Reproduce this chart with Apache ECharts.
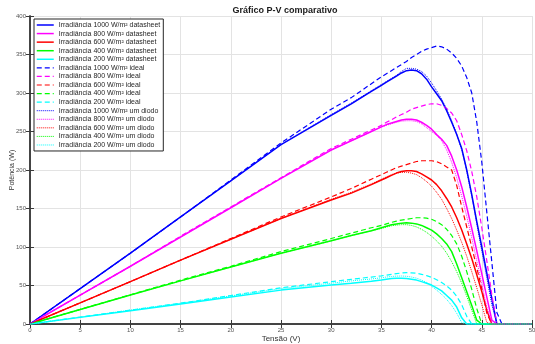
<!DOCTYPE html>
<html>
<head>
<meta charset="utf-8">
<script src="https://cdn.jsdelivr.net/npm/echarts@6/dist/echarts.min.js"></script>
<style>
  html, body { margin: 0; padding: 0; background: #fff; }
  #chart { width: 535px; height: 344px; }
</style>
</head>
<body>
<div id="chart"></div>
<script>
// tensão (V) shared by every curve
const voltage = [0, 5, 10, 15, 20, 25, 30, 32, 34, 35, 35.5, 36, 36.5, 37, 37.5, 38, 38.5, 39, 39.5,
  40, 40.5, 41, 41.5, 42, 42.5, 43, 43.5, 44, 44.5, 45, 45.5, 46, 46.5, 47, 50];

// potência (W)
const datasheet1000 = [0, 46, 92, 139, 186, 233, 271, 286, 302, 310, 314, 318, 322, 326, 329, 330, 329, 325, 318,
  308, 299, 290, 277, 262, 246, 228, 200, 168, 133, 100, 66, 33, 0, 0, 0];
const datasheet800 = [0, 37.5, 75, 113, 151, 189, 226, 238, 250, 256, 259, 261, 263, 265, 266, 266, 265, 262, 258,
  253, 246, 240, 232, 218, 200, 178, 152, 124, 95, 65, 35, 5, 0, 0, 0];
const datasheet600 = [0, 27.5, 55, 83, 110, 137, 161, 170, 181, 187, 190, 193, 196, 198, 199, 199, 198, 195, 191,
  187, 181, 173, 163, 152, 138, 122, 104, 85, 64, 42, 18, 0, 0, 0, 0];
const datasheet400 = [0, 18.8, 37.7, 56, 74, 92, 108, 115, 121, 125, 127, 129, 130, 131, 131.5, 131, 130, 128, 125,
  122, 117, 111, 104, 94, 78, 60, 42, 24, 5, 0, 0, 0, 0, 0, 0];
const datasheet200 = [0, 8.6, 17.3, 26, 35, 44, 50.6, 53, 55.5, 57, 58, 59, 59.3, 59.3, 59, 58, 57, 55, 53,
  50.6, 47, 43, 37, 31, 22, 8, 0, 0, 0, 0, 0, 0, 0, 0, 0];

const ideal1000 = [0, 46, 92, 139, 187, 235, 279, 294, 312, 321, 325, 329, 333, 337, 341, 346, 350, 354, 357,
  359, 361, 360, 357, 352, 345, 335, 320, 300, 262, 210, 145, 80, 15, 0, 0];
const ideal800 = [0, 37.5, 75, 114, 152, 190, 228, 240, 252, 258, 262, 265, 269, 272, 275, 279, 281, 283, 285,
  286, 286, 284, 280, 274, 264, 246, 225, 198, 165, 125, 82, 38, 0, 0, 0];
const ideal600 = [0, 27.5, 55, 83, 111, 139, 165, 176, 188, 194, 197, 200, 203, 205, 207, 209, 211, 212, 212,
  212, 211, 208, 204, 200, 180, 152, 126, 100, 73, 46, 14, 0, 0, 0, 0];
const ideal400 = [0, 19, 38, 57, 75, 94, 111, 118, 125, 128, 130, 132, 133.5, 135, 136, 137, 138, 138, 137.5,
  136, 133, 129, 123, 115, 104, 88, 68, 45, 20, 0, 0, 0, 0, 0, 0];
const ideal200 = [0, 9, 18, 27, 37, 47, 55, 58, 61, 62.5, 63.5, 64.5, 65.5, 66.2, 66.6, 66.5, 65.8, 64.5, 62.8,
  60.6, 57.5, 54, 49.5, 44, 36, 25, 10, 0, 0, 0, 0, 0, 0, 0, 0];

const diodo1000 = [0, 46, 92, 139, 186, 233, 272, 287, 303, 311, 315, 319, 323, 328, 332, 332, 331, 328, 322,
  313, 303, 292, 279, 264, 247, 226, 199, 166, 130, 95, 60, 25, 0, 0, 0];
const diodo800 = [0, 37.5, 75, 113, 151, 189, 226, 238, 250, 256, 258, 260, 262, 263.5, 264, 264, 263, 260, 255,
  250, 245, 238, 226, 210, 190, 166, 140, 112, 82, 52, 22, 0, 0, 0, 0];
const diodo600 = [0, 27.5, 55, 83, 110, 137, 162, 171, 182, 188, 191, 194, 196, 197, 197, 196, 194, 190, 185,
  179, 171, 162, 150, 137, 122, 106, 88, 68, 47, 25, 2, 0, 0, 0, 0];
const diodo400 = [0, 18.8, 37.7, 56, 74, 92, 108, 115, 121, 124, 126, 127.5, 128.5, 129, 129, 128, 126, 123, 119,
  114, 108, 101, 92, 81, 68, 53, 36, 18, 0, 0, 0, 0, 0, 0, 0];
const diodo200 = [0, 9, 18, 27, 36.5, 46, 53, 56, 58.5, 60, 61, 61.7, 62.2, 62.3, 62, 61, 59.5, 57, 54,
  49, 44, 38.5, 32, 24, 14, 2, 0, 0, 0, 0, 0, 0, 0, 0, 0];

const irradiances = ["1000", "800", "600", "400", "200"];
const colors = ["#0000ff", "#ff00ff", "#ff0000", "#00ff00", "#00ffff"];

const groups = [
  { suffix: "datasheet", curves: [datasheet1000, datasheet800, datasheet600, datasheet400, datasheet200], type: "solid", width: 1.5 },
  { suffix: "ideal", curves: [ideal1000, ideal800, ideal600, ideal400, ideal200], type: [5, 3], width: 1.2 },
  { suffix: "um diodo", curves: [diodo1000, diodo800, diodo600, diodo400, diodo200], type: [1, 1], width: 1 }
];

const series = [];
const legendItems = [];
groups.forEach((group) => {
  group.curves.forEach((values, i) => {
    const name = `Irradiância ${irradiances[i]} W/m² ${group.suffix}`;
    const lineStyle = { color: colors[i], width: group.width, type: group.type };
    series.push({
      name: name,
      type: "line",
      data: voltage.map((v, k) => [v, values[k]]),
      showSymbol: false,
      symbol: "none",
      color: colors[i],
      lineStyle: lineStyle,
      itemStyle: { color: colors[i] }
    });
    legendItems.push({ name: name, lineStyle: lineStyle, itemStyle: { color: colors[i], opacity: 0 } });
  });
});

const font = "Liberation Sans, Arial, Helvetica, sans-serif";
const frameColor = "#3a3a3a";

const chart = echarts.init(document.getElementById("chart"));
chart.setOption({
  animation: false,
  color: colors,
  textStyle: { fontFamily: font },
  title: {
    text: "Gráfico P-V comparativo",
    left: 280,
    textAlign: "center",
    top: 1,
    textStyle: { fontSize: 9, fontWeight: "bold", color: "#1a1a1a", fontFamily: font }
  },
  legend: {
    orient: "vertical",
    left: 34,
    top: 19,
    padding: [2, 3, 2, 2],
    itemWidth: 17,
    itemHeight: 8,
    itemGap: 0.57,
    itemTextGap: 2,
    backgroundColor: "#fff",
    borderColor: "#262626",
    borderWidth: 1,
    borderRadius: 0,
    textStyle: { fontSize: 7, color: "#262626", fontFamily: font, lineHeight: 8 },
    data: legendItems
  },
  grid: { left: 30, right: 3, top: 16, bottom: 20, outerBoundsMode: "none" },
  xAxis: [
    {
      type: "value",
      min: 0,
      max: 50,
      interval: 5,
      name: "Tensão (V)",
      nameLocation: "middle",
      nameGap: 11,
      nameMoveOverlap: false,
      nameTextStyle: { fontSize: 8, color: "#333" },
      axisLine: { lineStyle: { color: frameColor, width: 1.5 } },
      axisTick: { inside: true, length: 4, lineStyle: { color: frameColor } },
      axisLabel: { fontSize: 6, color: "#555", margin: 3 },
      splitLine: { show: true, lineStyle: { color: "#e3e3e3", width: 1 } }
    },
    {
      type: "value",
      position: "top",
      min: 0,
      max: 50,
      interval: 5,
      axisLine: { lineStyle: { color: frameColor, width: 1.5 } },
      axisTick: { inside: true, length: 4, lineStyle: { color: frameColor } },
      axisLabel: { show: false },
      splitLine: { show: false }
    }
  ],
  yAxis: [
    {
      type: "value",
      min: 0,
      max: 400,
      interval: 50,
      name: "Potência (W)",
      nameLocation: "middle",
      nameGap: 14,
      nameMoveOverlap: false,
      nameTextStyle: { fontSize: 7, color: "#333" },
      axisLine: { show: true, lineStyle: { color: frameColor, width: 1.5 } },
      axisTick: { show: true, inside: true, length: 4, lineStyle: { color: frameColor } },
      axisLabel: { fontSize: 6, color: "#555", margin: 4 },
      splitLine: { show: true, lineStyle: { color: "#e3e3e3", width: 1 } }
    },
    {
      type: "value",
      position: "right",
      min: 0,
      max: 400,
      interval: 50,
      axisLine: { show: true, lineStyle: { color: frameColor, width: 1.5 } },
      axisTick: { show: true, inside: true, length: 4, lineStyle: { color: frameColor } },
      axisLabel: { show: false },
      splitLine: { show: false }
    }
  ],
  series: series
});
</script>
</body>
</html>
